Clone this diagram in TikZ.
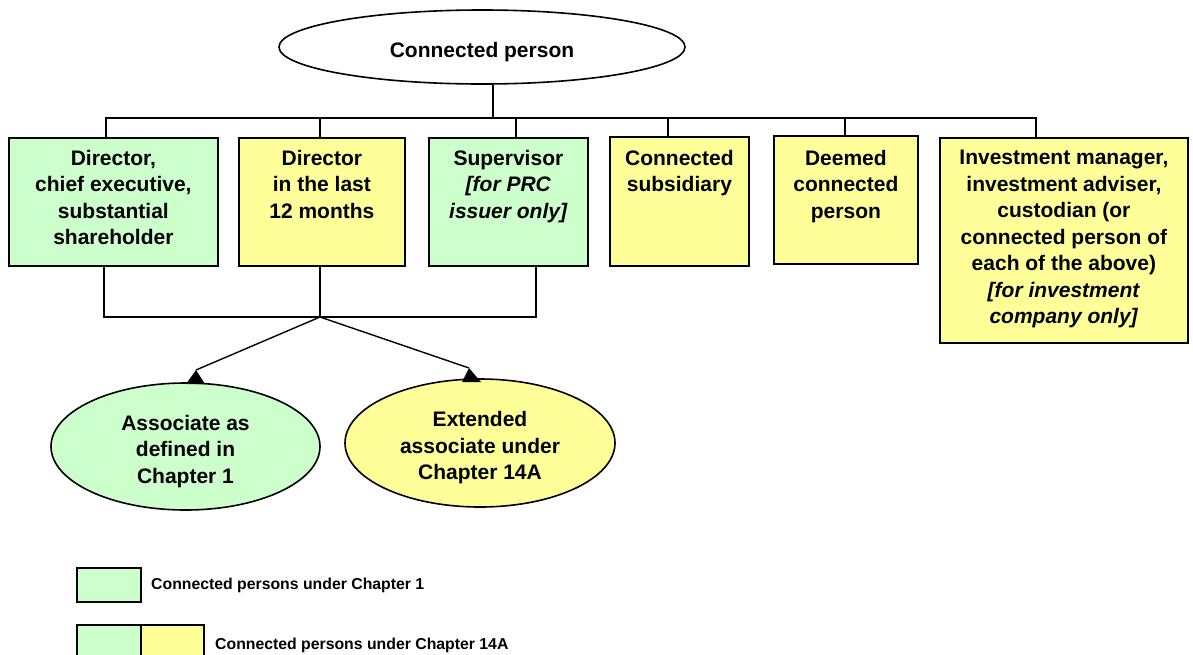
\documentclass[tikz,border=0pt]{standalone}
\usepackage{fontspec}
\setmainfont{Liberation Sans}
\usetikzlibrary{shapes.geometric}
\definecolor{cgreen}{HTML}{CCFFCC}
\definecolor{cyellow}{HTML}{FFFF99}
\begin{document}
\begin{tikzpicture}[x=1pt,y=-1pt,
  box/.style={draw=black, line width=1.8pt, inner sep=0pt, anchor=north west},
  gbox/.style={box, fill=cgreen},
  ybox/.style={box, fill=cyellow},
  txt/.style={inner sep=0pt, align=center, anchor=north, font=\fontsize{21}{26.5}\selectfont\bfseries},
  ell/.style={ellipse, draw=black, line width=1.6pt, inner sep=0pt, align=center, font=\fontsize{21}{26.5}\selectfont\bfseries},
  conn/.style={line width=1.4pt},
  tipfill/.style={fill=black},
  legbox/.style={draw=black, line width=1.6pt, inner sep=0pt, anchor=north west, minimum height=34pt},
  legtxt/.style={inner sep=0pt, anchor=base west, font=\fontsize{15.8}{19}\selectfont\bfseries}
]
\useasboundingbox (0,0) rectangle (1193,654);

% top ellipse
\node[ell, fill=white, minimum width=406pt, minimum height=74pt, text height=20pt, text depth=0pt] (cp) at (482,47) {Connected person};

% boxes
\node[gbox, minimum width=209pt, minimum height=128pt] (b1) at (8,137) {};
\node[ybox, minimum width=166pt, minimum height=128pt] (b2) at (238,137) {};
\node[gbox, minimum width=159pt, minimum height=128pt] (b3) at (428,137) {};
\node[ybox, minimum width=139pt, minimum height=129pt] (b4) at (609,136) {};
\node[ybox, minimum width=144pt, minimum height=128pt] (b5) at (773,135) {};
\node[ybox, minimum width=248pt, minimum height=205pt] (b6) at (939,137) {};

\node[txt] (t1) at (b1.north |- 0,150) {Director,\\chief executive,\\substantial\\shareholder};
\node[txt] (t2) at (b2.north |- 0,150) {Director\\in the last\\12 months};
\node[txt] (t3) at (b3.north |- 0,150) {Supervisor\\\textit{[for PRC}\\\textit{issuer only]}};
\node[txt] (t4) at (b4.north |- 0,150) {Connected\\subsidiary};
\node[txt] (t5) at (b5.north |- 0,150) {Deemed\\connected\\person};
\node[txt] (t6) at (b6.north |- 0,150) {Investment manager,\\investment adviser,\\custodian (or\\connected person of\\each of the above)\\\textit{[for investment}\\\textit{company only]}};

% bottom ellipses
\node[ell, fill=cgreen, minimum width=269pt, minimum height=127pt] (e1) at (185.5,446.5) {\rule{0pt}{25pt}Associate as\\defined in\\Chapter 1};
\node[ell, fill=cyellow, minimum width=270pt, minimum height=128pt] (e2) at (480,443) {\rule{0pt}{25pt}Extended\\associate under\\Chapter 14A};

% upper bus
\coordinate (top) at (493,118);
\coordinate (d1) at (106,118);
\coordinate (d2) at (320,118);
\coordinate (d3) at (516,118);
\coordinate (d4) at (668,118);
\coordinate (d5) at (845,118);
\coordinate (d6) at (1036,118);
\draw[conn] (cp.south -| top) -- (top);
\draw[conn] (d1 |- b1.north) -- (d1) -- (d6) -- (d6 |- b6.north);
\foreach \d/\b in {d2/b2, d3/b3, d4/b4, d5/b5}
  \draw[conn] (\d) -- (\d |- \b.north);

% lower bus
\coordinate (u1) at (104,317);
\coordinate (u2) at (320,317);
\coordinate (u3) at (536,317);
\draw[conn] (u1 |- b1.south) -- (u1) -- (u3) -- (u3 |- b3.south);
\draw[conn] (u2 |- b2.south) -- (u2);

% arrows to ellipses
\coordinate (aL) at (196,370);
\coordinate (aR) at (469,368);
\draw[conn] (u2) -- (aL);
\draw[conn] (u2) -- (aR);
\fill[tipfill] (aL) -- (186,384) -- (205,384) -- cycle;
\fill[tipfill] (aR) -- (462,382) -- (481,382) -- cycle;

% legend
\node[legbox, fill=cgreen, minimum width=64pt] (l1) at (76,567) {};
\node[legtxt] (lt1) at (151,589) {Connected persons under Chapter 1};
\node[legbox, fill=cgreen, minimum width=64pt] (l2a) at (76,624) {};
\node[legbox, fill=cyellow, minimum width=63pt] (l2b) at (140,624) {};
\node[legtxt] (lt2) at (215,649) {Connected persons under Chapter 14A};
\end{tikzpicture}
\end{document}
